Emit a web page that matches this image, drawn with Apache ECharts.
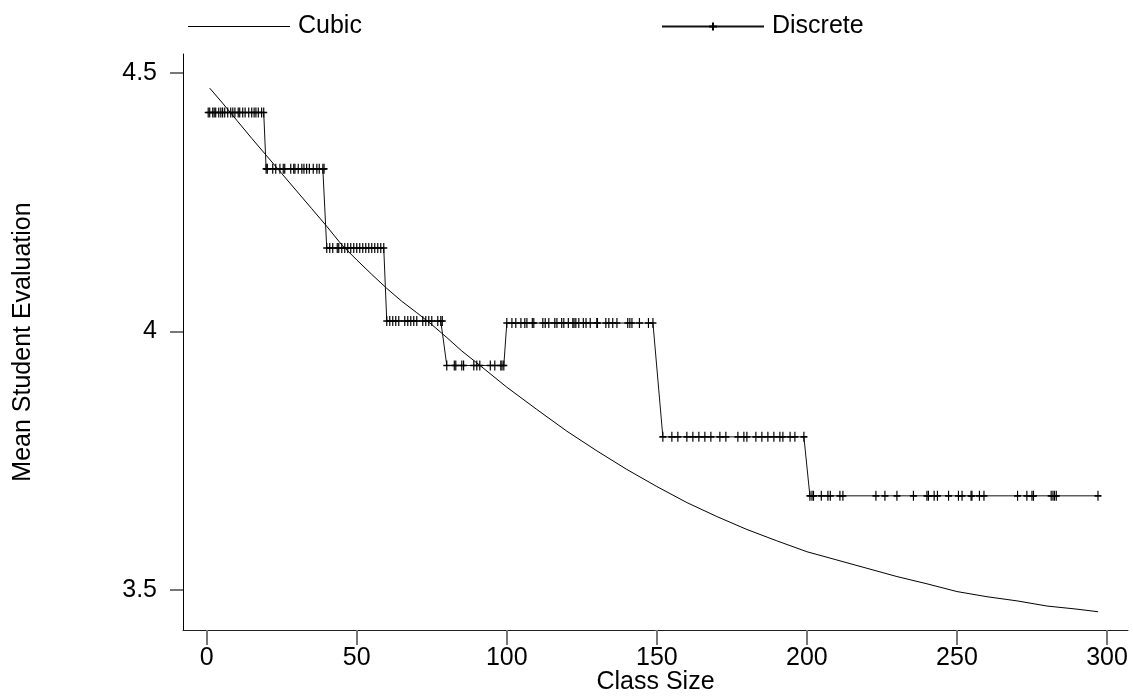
<!DOCTYPE html>
<html><head><meta charset="utf-8">
<script src="https://cdn.jsdelivr.net/npm/echarts@6/dist/echarts.min.js"></script>
<style>html,body{margin:0;padding:0;background:#fff}#c{width:1133px;height:696px}</style>
</head><body><div id="c"></div>
<script>
// Cubic fit (class size, mean evaluation)
const cubicX = [1,5,10,15,20,25,30,35,40,45,50,55,60,65,70,75,80,85,90,100,110,120,130,140,150,160,170,180,190,200,210,220,230,240,250,260,270,280,290,297];
const cubicY = [4.470,4.443,4.408,4.373,4.339,4.305,4.271,4.237,4.203,4.167,4.138,4.110,4.083,4.058,4.036,4.013,3.988,3.962,3.939,3.892,3.849,3.807,3.769,3.733,3.700,3.669,3.642,3.617,3.595,3.574,3.558,3.542,3.526,3.512,3.497,3.487,3.479,3.469,3.463,3.458];

// Discrete: class sizes in each group and the group mean
const g1X = [0.5,1,2,2.5,3,4,4.7,5.3,6,7,8,8.7,9.4,10.5,11,12,12.8,14,15,15.8,16.4,17.2,18.3,19];
const g2X = [19.8,20.2,22,23,24.4,25.5,26,28,29,29.4,30.5,31.7,32.4,33.3,34.2,35.5,36.7,37.5,38.7,39.1];
const g3X = [40,41,42,43.5,44,45,46,47,48,49,50,51,52,53,54,55,56,57,58,59];
const g4X = [60,61,62,63,64,66,67,68,69,70,72,73,74,75,77,78,78.5];
const g5X = [80,82.5,83,85,85.6,89,90,91,94.5,96,98,98.4,99];
const g6X = [100,101.7,103,104.7,106,106.7,108.5,109,112,112.8,114,116,116.7,118.3,119,120.5,122,122.4,123,124,125.5,126.4,127.8,130,130.2,133,134,135.3,136.7,140.3,141,141.7,144.2,147.2,148.7];
const g7X = [152,155,157,160,162,164,166,168,171,173,177,179,180,183,185,187,189,191,192,194.4,196,199];
const g8X = [201,201.7,202.2,204.8,207,207.8,211,212,223,226,230,235.5,240,240.5,242.4,243.5,247.2,250.5,251.7,254.7,255,257.5,259,270.2,273.3,275,275.5,281.4,282,282.5,283.1,297];
const groupY = [4.423,4.314,4.161,4.020,3.934,4.016,3.796,3.682];

const xTicks = [0,50,100,150,200,250,300];
const yTicks = [3.5,4,4.5];

const groups = [g1X,g2X,g3X,g4X,g5X,g6X,g7X,g8X];
const discrete = [];
groups.forEach((g,i)=>g.forEach(x=>discrete.push([x,groupY[i]])));
const cubic = cubicX.map((x,i)=>[x,cubicY[i]]);

const FONT = '"Liberation Sans", Arial, sans-serif';
const chart = echarts.init(document.getElementById('c'));
chart.setOption({
  animation:false,
  backgroundColor:'#fff',
  textStyle:{fontFamily:FONT},
  grid:{left:183, top:54, width:945, height:576, containLabel:false, outerBoundsMode:'none'},
  legend:[
    {left:183, top:9, itemWidth:102, itemHeight:1, data:[{name:'Cubic', icon:'rect'}],
     textStyle:{fontSize:25, color:'#000', fontFamily:FONT, padding:[0,0,0,3]}},
    {left:656, top:9, itemWidth:102, itemHeight:10, data:['Discrete'],
     textStyle:{fontSize:25, color:'#000', fontFamily:FONT, padding:[0,0,0,3]}}
  ],
  xAxis:{type:'value', min:-7.9, max:307,
    name:'Class Size', nameLocation:'middle', nameGap:40, nameMoveOverlap:false,
    nameTextStyle:{fontSize:25, color:'#000', fontFamily:FONT},
    splitLine:{show:false},
    axisLine:{show:true, onZero:false, lineStyle:{color:'#222', width:1}},
    axisTick:{show:true, inside:false, length:15, customValues:xTicks, lineStyle:{color:'#777', width:2}},
    axisLabel:{customValues:xTicks, fontSize:25, color:'#000', margin:16, fontFamily:FONT}
  },
  yAxis:{type:'value', min:3.4227, max:4.536,
    name:'Mean Student Evaluation', nameLocation:'middle', nameGap:147, nameRotate:90, nameMoveOverlap:false,
    nameTextStyle:{fontSize:25, color:'#000', fontFamily:FONT},
    splitLine:{show:false},
    axisLine:{show:true, onZero:false, lineStyle:{color:'#000', width:1}},
    axisTick:{show:true, inside:false, length:13, customValues:yTicks, lineStyle:{color:'#777', width:2}},
    axisLabel:{customValues:yTicks, fontSize:25, color:'#000', margin:26, fontFamily:FONT}
  },
  series:[
    {name:'Cubic', type:'line', data:cubic, symbol:'none', smooth:false,
     lineStyle:{color:'#000', width:1}, itemStyle:{color:'#000'}},
    {name:'Discrete', type:'line', data:discrete, showAllSymbol:true,
     symbol:'path://M5,0L5,10M0,5L10,5', symbolSize:[7,10],
     lineStyle:{color:'#111', width:1},
     itemStyle:{color:'#000', borderColor:'#000', borderWidth:1.4}}
  ]
});
</script></body></html>
